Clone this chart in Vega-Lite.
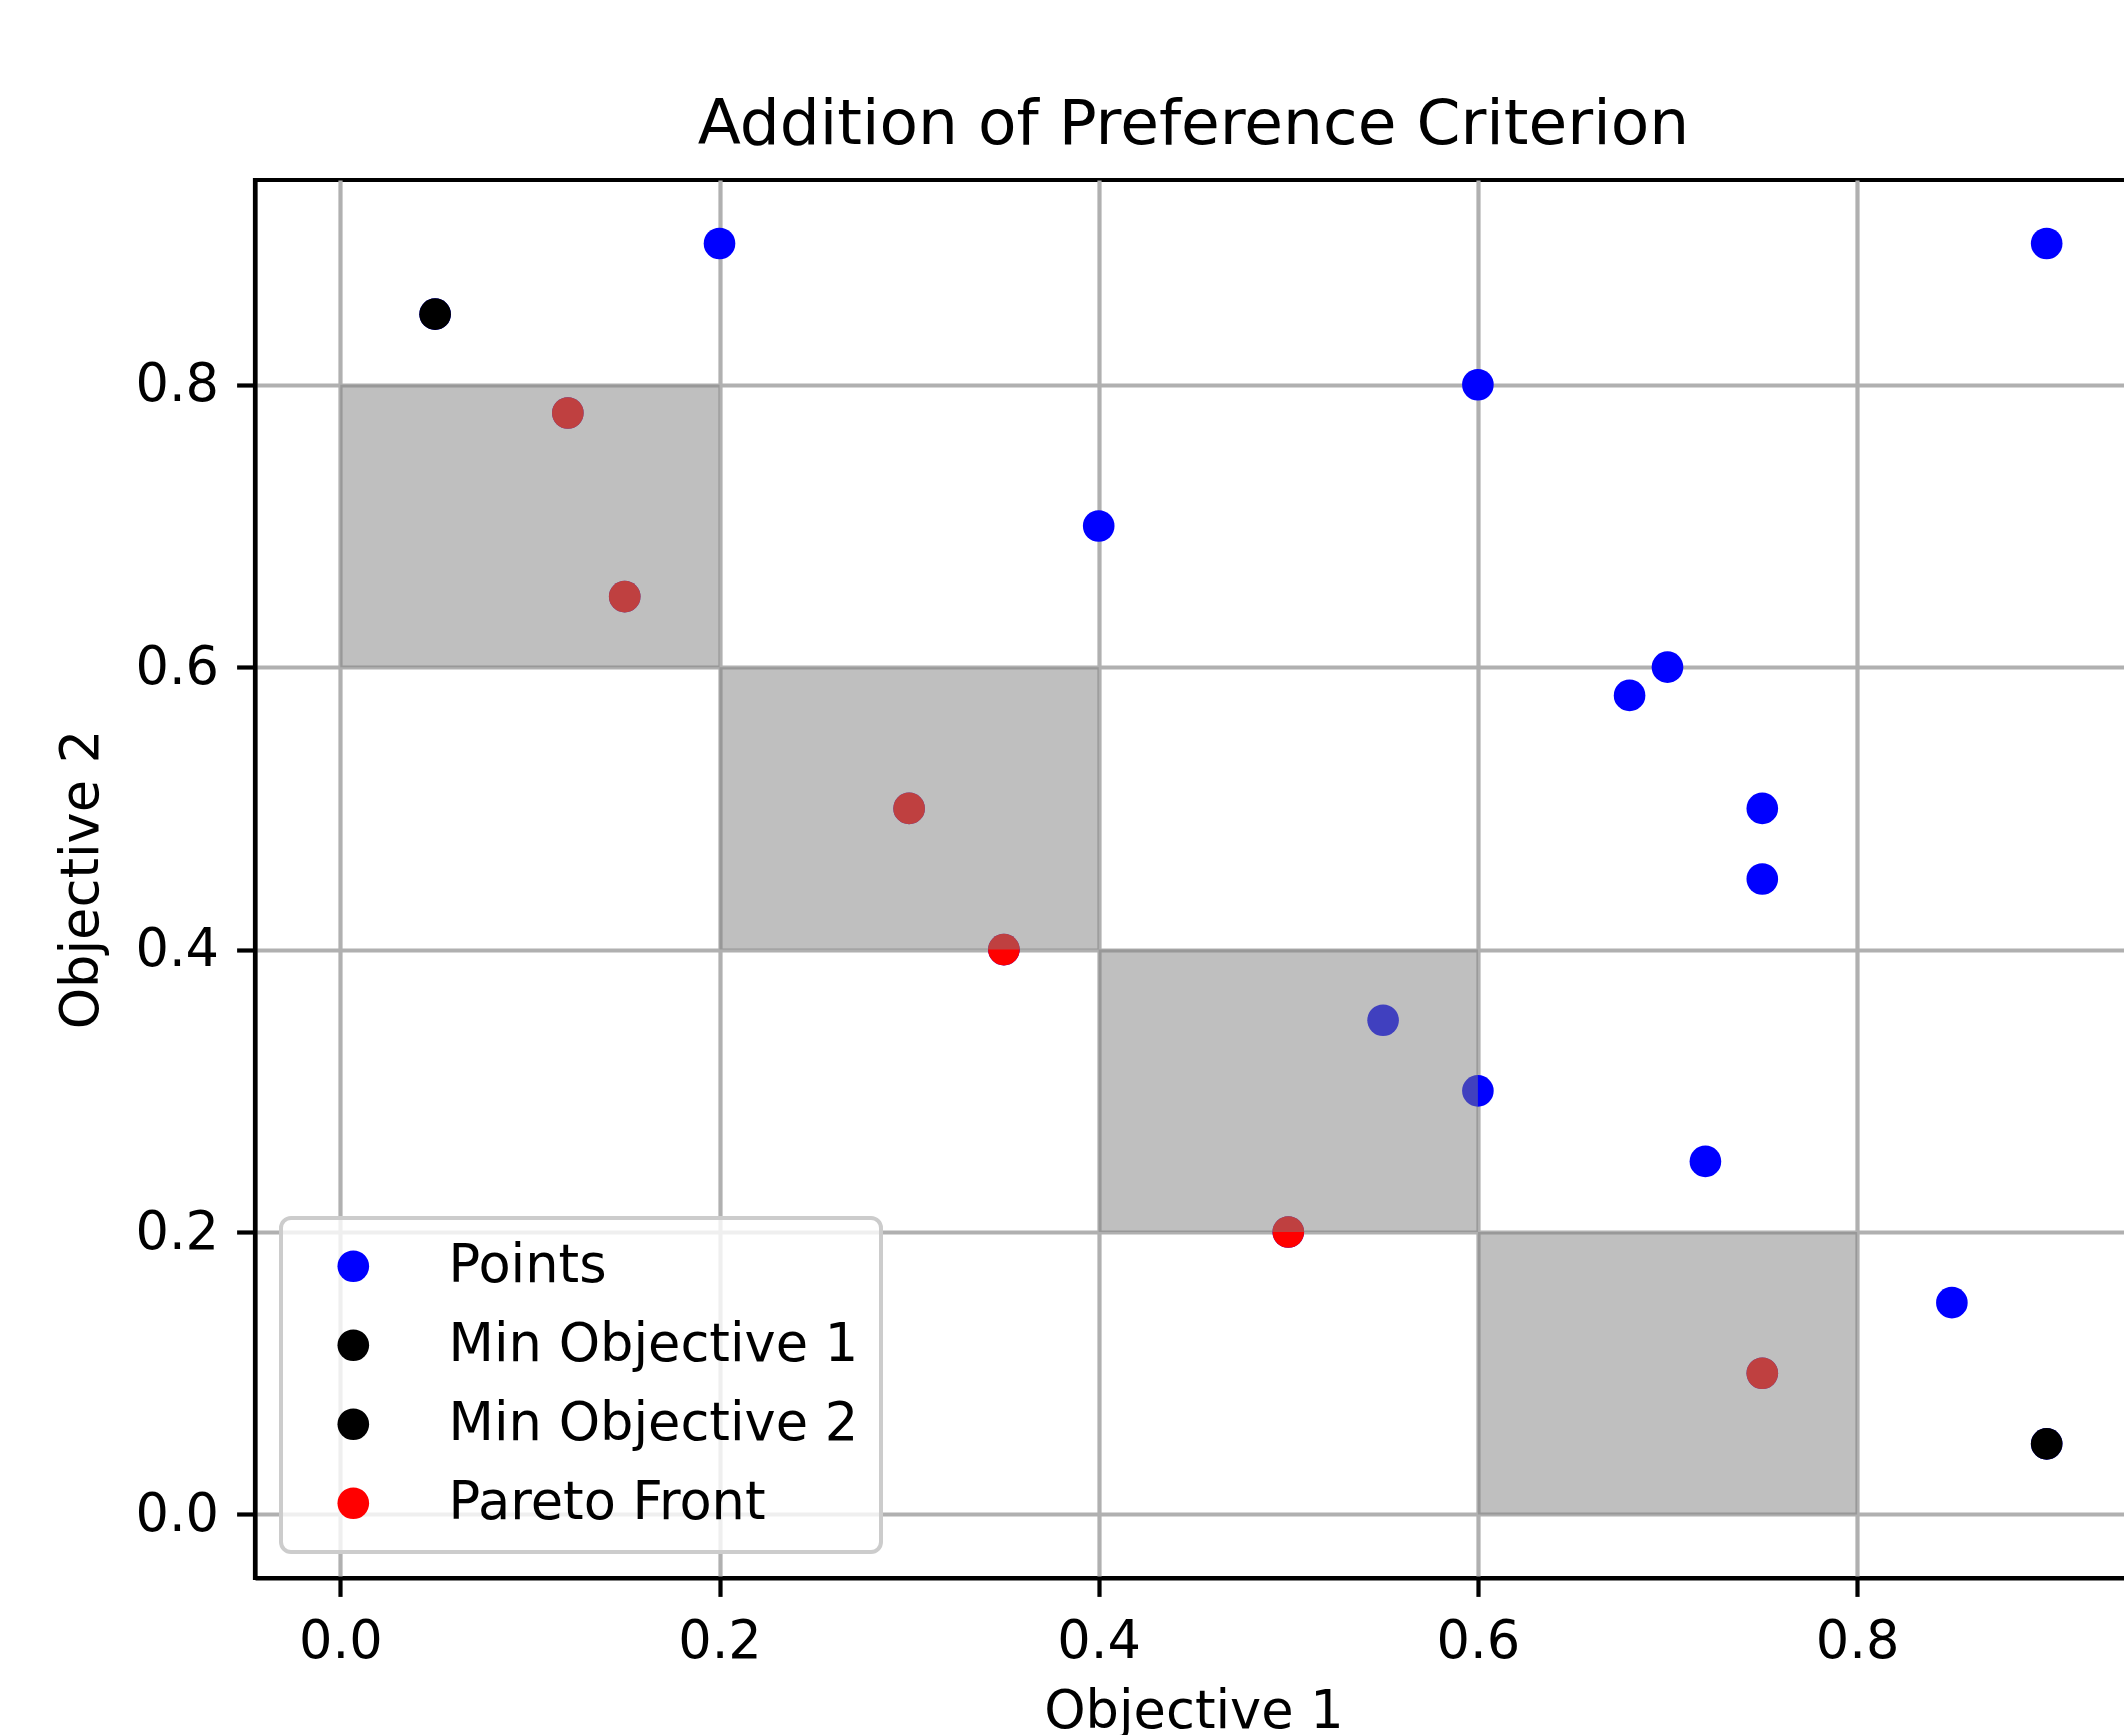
{
  "$schema": "https://vega.github.io/schema/vega-lite/v6.json",
  "autosize": "none",
  "width": 1877,
  "height": 1398,
  "padding": {"left": 255, "top": 180, "right": 0, "bottom": 157},
  "background": "white",
  "title": {
    "text": "Addition of Preference Criterion",
    "font": "DejaVu Sans",
    "fontSize": 63,
    "fontWeight": "normal",
    "color": "black",
    "anchor": "middle",
    "baseline": "alphabetic",
    "offset": -27
  },
  "datasets": {
    "points": [
      {"obj1": 0.2, "obj2": 0.9, "series": "Points"},
      {"obj1": 0.9, "obj2": 0.9, "series": "Points"},
      {"obj1": 0.6, "obj2": 0.8, "series": "Points"},
      {"obj1": 0.4, "obj2": 0.7, "series": "Points"},
      {"obj1": 0.7, "obj2": 0.6, "series": "Points"},
      {"obj1": 0.68, "obj2": 0.58, "series": "Points"},
      {"obj1": 0.75, "obj2": 0.5, "series": "Points"},
      {"obj1": 0.75, "obj2": 0.45, "series": "Points"},
      {"obj1": 0.55, "obj2": 0.35, "series": "Points"},
      {"obj1": 0.6, "obj2": 0.3, "series": "Points"},
      {"obj1": 0.72, "obj2": 0.25, "series": "Points"},
      {"obj1": 0.85, "obj2": 0.15, "series": "Points"},
      {"obj1": 0.05, "obj2": 0.85, "series": "Points"},
      {"obj1": 0.9, "obj2": 0.05, "series": "Points"},
      {"obj1": 0.12, "obj2": 0.78, "series": "Points"},
      {"obj1": 0.15, "obj2": 0.65, "series": "Points"},
      {"obj1": 0.3, "obj2": 0.5, "series": "Points"},
      {"obj1": 0.35, "obj2": 0.4, "series": "Points"},
      {"obj1": 0.5, "obj2": 0.2, "series": "Points"},
      {"obj1": 0.75, "obj2": 0.1, "series": "Points"},
      {"obj1": 0.05, "obj2": 0.85, "series": "Min Objective 1"},
      {"obj1": 0.9, "obj2": 0.05, "series": "Min Objective 2"},
      {"obj1": 0.12, "obj2": 0.78, "series": "Pareto Front"},
      {"obj1": 0.15, "obj2": 0.65, "series": "Pareto Front"},
      {"obj1": 0.3, "obj2": 0.5, "series": "Pareto Front"},
      {"obj1": 0.35, "obj2": 0.4, "series": "Pareto Front"},
      {"obj1": 0.5, "obj2": 0.2, "series": "Pareto Front"},
      {"obj1": 0.75, "obj2": 0.1, "series": "Pareto Front"}
    ],
    "regions": [
      {"x1": 0.0, "x2": 0.2, "y1": 0.6, "y2": 0.8},
      {"x1": 0.2, "x2": 0.4, "y1": 0.4, "y2": 0.6},
      {"x1": 0.4, "x2": 0.6, "y1": 0.2, "y2": 0.4},
      {"x1": 0.6, "x2": 0.8, "y1": 0.0, "y2": 0.2}
    ]
  },
  "layer": [
    {
      "data": {"name": "points"},
      "mark": {"type": "point", "filled": true, "shape": "circle", "size": 1000, "opacity": 1, "strokeWidth": 0},
      "encoding": {
        "x": {
          "field": "obj1", "type": "quantitative",
          "scale": {"domain": [-0.045, 0.945], "nice": false, "zero": false},
          "axis": {"values": [0, 0.2, 0.4, 0.6, 0.8], "format": ".1f", "title": "Objective 1", "titlePadding": 17}
        },
        "y": {
          "field": "obj2", "type": "quantitative",
          "scale": {"domain": [-0.045, 0.945], "nice": false, "zero": false},
          "axis": {"values": [0, 0.2, 0.4, 0.6, 0.8], "format": ".1f", "title": "Objective 2", "titlePadding": 26}
        },
        "color": {
          "field": "series", "type": "nominal",
          "scale": {
            "domain": ["Points", "Min Objective 1", "Min Objective 2", "Pareto Front"],
            "range": ["#0000ff", "#000000", "#000000", "#ff0000"]
          },
          "legend": {"title": null}
        }
      }
    },
    {
      "data": {"name": "regions"},
      "mark": {"type": "rect", "color": "#808080", "opacity": 0.5},
      "encoding": {
        "x": {"field": "x1", "type": "quantitative"},
        "x2": {"field": "x2"},
        "y": {"field": "y1", "type": "quantitative"},
        "y2": {"field": "y2"}
      }
    }
  ],
  "config": {
    "font": "DejaVu Sans",
    "view": {"stroke": "black", "strokeWidth": 4.2, "fill": "white"},
    "axis": {
      "zindex": 1,
      "grid": true,
      "gridColor": "#b0b0b0",
      "gridWidth": 4.2,
      "gridOpacity": 1,
      "domainColor": "black",
      "domainWidth": 4.2,
      "tickColor": "black",
      "tickWidth": 4.2,
      "tickSize": 18.4,
      "labelFont": "DejaVu Sans",
      "labelFontSize": 52.6,
      "labelColor": "black",
      "labelPadding": 19,
      "labelFlush": false,
      "labelOverlap": false,
      "titleFont": "DejaVu Sans",
      "titleFontSize": 52.6,
      "titleFontWeight": "normal",
      "titleColor": "black"
    },
    "axisY": {"labelPadding": 18},
    "legend": {
      "orient": "bottom-left",
      "offset": 26,
      "padding": 22,
      "zindex": 2,
      "fillColor": "rgba(255,255,255,0.8)",
      "strokeColor": "#cccccc",
      "strokeWidth": 4,
      "cornerRadius": 10,
      "labelFont": "DejaVu Sans",
      "labelFontSize": 52.6,
      "labelColor": "black",
      "labelLimit": 0,
      "symbolType": "circle",
      "symbolSize": 1000,
      "symbolStrokeWidth": 0,
      "symbolOpacity": 1,
      "symbolOffset": 24,
      "labelOffset": 69,
      "rowPadding": 26
    }
  }
}
